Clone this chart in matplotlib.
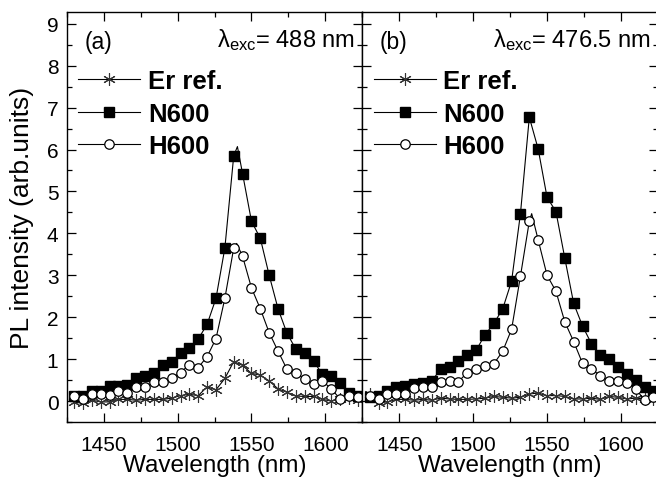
import numpy as np
import matplotlib
matplotlib.use("Agg")
import matplotlib.pyplot as plt

plt.rcParams['font.family'] = ['Liberation Sans', 'DejaVu Sans']
plt.rcParams['mathtext.fontset'] = 'custom'
plt.rcParams['mathtext.rm'] = 'Liberation Sans'
plt.rcParams['mathtext.it'] = 'Liberation Sans:italic'

# Wavelength grid (nm)
wavelength = [1430, 1436, 1442, 1448, 1454, 1460, 1466, 1472, 1478, 1484, 1490,
              1496, 1502, 1508, 1514, 1520, 1526, 1532, 1538, 1544, 1550, 1556,
              1562, 1568, 1574, 1580, 1586, 1592, 1598, 1604, 1610, 1616, 1622]

# Panel (a): excitation 488 nm
a_er = [-0.03, -0.05, 0.02, -0.02, -0.02, 0.04, 0.04, 0.02, 0.04, 0.04, 0.04,
        0.07, 0.13, 0.16, 0.13, 0.34, 0.27, 0.54, 0.94, 0.85, 0.66, 0.62,
        0.48, 0.29, 0.21, 0.12, 0.11, 0.11, 0.04, 0.00, 0.05, 0.07, 0.02]
a_n600 = [0.12, 0.12, 0.23, 0.25, 0.35, 0.35, 0.38, 0.56, 0.60, 0.68, 0.85,
          0.93, 1.15, 1.26, 1.48, 1.83, 2.45, 3.65, 5.85, 5.42, 4.29, 3.88,
          3.00, 2.20, 1.62, 1.24, 1.15, 0.95, 0.64, 0.60, 0.43, 0.20, 0.12]
a_h600 = [0.13, 0.04, 0.17, 0.17, 0.15, 0.23, 0.20, 0.33, 0.33, 0.45, 0.45,
          0.54, 0.68, 0.87, 0.80, 1.06, 1.49, 2.45, 3.65, 3.45, 2.70, 2.20,
          1.63, 1.19, 0.76, 0.68, 0.52, 0.41, 0.48, 0.29, 0.05, 0.13, 0.09]
# line-only peak vertices (wavelength, value)
a_n600_peak = (1540.5, 6.07)
a_h600_peak = (1540.0, 3.76)

# Panel (b): excitation 476.5 nm
b_er = [0.17, -0.04, -0.02, 0.04, 0.04, 0.02, 0.04, 0.02, 0.07, 0.05, 0.04,
        0.04, 0.05, 0.07, 0.11, 0.09, 0.07, 0.09, 0.17, 0.19, 0.13, 0.13,
        0.11, 0.05, 0.05, 0.07, 0.04, 0.11, 0.09, 0.05, 0.07, 0.05, 0.04]
b_n600 = [0.10, 0.12, 0.25, 0.33, 0.37, 0.41, 0.43, 0.48, 0.76, 0.82, 0.95,
          1.11, 1.21, 1.58, 1.85, 2.20, 2.86, 4.47, 6.77, 6.01, 4.86, 4.52,
          3.41, 2.33, 1.79, 1.37, 1.11, 1.01, 0.82, 0.64, 0.51, 0.33, 0.25]
b_h600 = [0.13, 0.04, 0.17, 0.17, 0.17, 0.30, 0.33, 0.34, 0.46, 0.48, 0.46,
          0.68, 0.76, 0.84, 0.89, 1.19, 1.71, 2.98, 4.29, 3.84, 3.00, 2.62,
          1.89, 1.42, 0.90, 0.77, 0.60, 0.48, 0.48, 0.44, 0.29, 0.02, 0.09]
b_h600_peak = (1539.6, 4.47)

series_labels = ["Er ref.", "N600", "H600"]
panel_tags = ["(a)", "(b)"]
exc_labels = [r"$\mathregular{\lambda_{exc}}$= 488 nm", r"$\mathregular{\lambda_{exc}}$= 476.5 nm"]
xticks = [1450, 1500, 1550, 1600]
yticks = list(range(0, 10))


def with_peak(x, y, peak):
    """Insert a line-only vertex; return x, y and marker indices."""
    x = list(x)
    y = list(y)
    idx = list(range(len(x)))
    if peak is None:
        return x, y, idx
    pos = int(np.searchsorted(x, peak[0]))
    x.insert(pos, peak[0])
    y.insert(pos, peak[1])
    idx = [i for i in range(len(x)) if i != pos]
    return x, y, idx


fig = plt.figure(figsize=(6.56, 4.85), dpi=100)
W = 0.4506
ax1 = fig.add_axes([0.1017, 0.1278, W, 0.8454])
ax2 = fig.add_axes([0.1017 + W, 0.1278, W, 0.8454])

panels = [
    (ax1, a_er, a_n600, a_h600, None, a_n600_peak, a_h600_peak),
    (ax2, b_er, b_n600, b_h600, None, None, b_h600_peak),
]

lw = 0.8
for i, (ax, er, n6, h6, pe, pn, ph) in enumerate(panels):
    styles = [
        (er, pe, dict(marker=(6, 2, 0), markersize=9, color='black', mec='#333333', mew=0.8)),
        (n6, pn, dict(marker='s', markersize=6.5, color='black', mfc='black', mec='black')),
        (h6, ph, dict(marker='o', markersize=6.8, color='black', mfc='white', mec='black', mew=0.9)),
    ]
    handles = []
    for (yv, pk, st), lab in zip(styles, series_labels):
        xx, yy, idx = with_peak(wavelength, yv, pk)
        h, = ax.plot(xx, yy, lw=lw, markevery=idx, label=lab, **st)
        handles.append(h)
    ax.set_xlim(1425, 1625)
    ax.set_ylim(-0.33, 9.28)
    ax.set_xticks(xticks)
    ax.set_xticks(np.arange(1425, 1626, 25), minor=True)
    ax.set_yticks(yticks)
    ax.set_yticks(np.arange(-0.5, 9.3, 0.5), minor=True)
    ax.tick_params(which='both', direction='in', top=True, right=True, labelsize=15, width=0.9)
    ax.tick_params(which='major', length=6.5)
    ax.tick_params(axis='x', which='major', pad=9)
    ax.tick_params(axis='y', which='major', pad=6)
    ax.tick_params(which='minor', length=3.5)
    for sp in ax.spines.values():
        sp.set_linewidth(1.0)
    ax.set_xlabel("Wavelength (nm)", fontsize=17.5, labelpad=0)
    ax.text(0.06, 0.955, panel_tags[i], transform=ax.transAxes, fontsize=16.5,
            ha='left', va='top')
    ax.text(0.975, 0.965, exc_labels[i], transform=ax.transAxes, fontsize=17,
            ha='right', va='top')
    leg = ax.legend(handles=handles, loc='upper left', bbox_to_anchor=(0.005, 0.885),
                    frameon=False, handlelength=2.4, handletextpad=0.3,
                    labelspacing=0.33, borderaxespad=0.0,
                    prop={'weight': 'bold', 'size': 18.5})

ax1.set_ylabel("PL intensity (arb.units)", fontsize=19, labelpad=9)
ax2.tick_params(axis='y', labelleft=False)

fig.savefig("out.png", dpi=100)
